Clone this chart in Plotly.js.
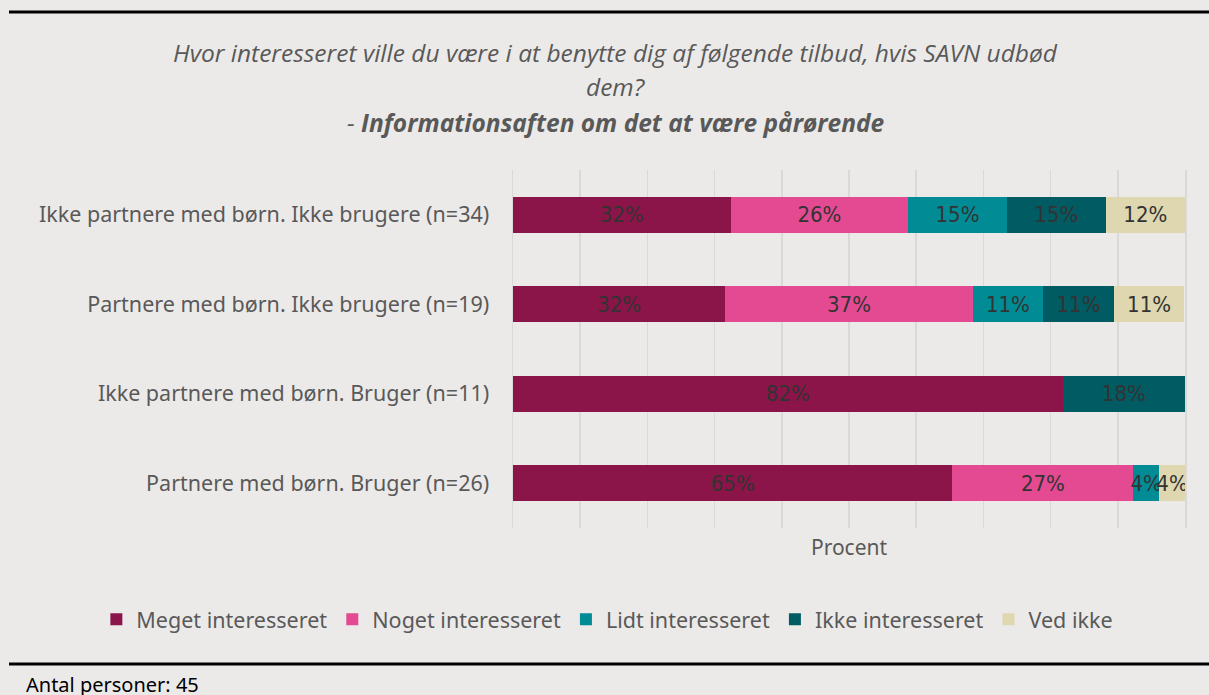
<!DOCTYPE html>
<html>
<head>
<meta charset="utf-8">
<script src="https://cdn.plot.ly/plotly-3.0.1.min.js"></script>
<style>
html,body{margin:0;padding:0;background:#ECEAE8;}
#chart{width:1209px;height:695px;}
</style>
</head>
<body>
<div id="chart"></div>
<script>
// Categories (top to bottom)
const categories = [
  "Ikke partnere med børn. Ikke brugere (n=34)",
  "Partnere med børn. Ikke brugere (n=19)",
  "Ikke partnere med børn. Bruger (n=11)",
  "Partnere med børn. Bruger (n=26)"
];
// Series names
const seriesNames = ["Meget interesseret", "Noget interesseret", "Lidt interesseret", "Ikke interesseret", "Ved ikke"];
// Percent values per series (order follows categories)
const meget = [32.4, 31.6, 81.8, 65.4];
const noget = [26.4, 36.8, 0, 26.9];
const lidt  = [14.7, 10.5, 0, 3.85];
const ikke  = [14.7, 10.5, 18.2, 0];
const vedIkke = [11.8, 10.5, 0, 3.85];
const seriesValues = [meget, noget, lidt, ikke, vedIkke];
const colors = ["#8B1449", "#E34A92", "#008B95", "#005B63", "#DED7AF"];
// Title lines
const titleLines = [
  "Hvor interesseret ville du være i at benytte dig af følgende tilbud, hvis SAVN udbød",
  "dem?",
  "- <b>Informationsaften om det at være pårørende</b>"
];
const footerText = "Antal personer: 45";

const labelFont = "Noto Sans, Open Sans, sans-serif";
const narrowFont = "Liberation Sans Narrow, DejaVu Sans Condensed, sans-serif";

const traces = seriesValues.map((vals, i) => ({
  type: "bar",
  orientation: "h",
  name: seriesNames[i],
  y: categories,
  x: vals,
  marker: {color: colors[i], line: {width: 0}},
  text: vals.map(v => v > 0 ? Math.round(v) + "%" : ""),
  textposition: "inside",
  insidetextanchor: "middle",
  textangle: 0,
  constraintext: "none",
  textfont: {family: narrowFont, size: 22, color: "#333333"},
  hoverinfo: "name+x"
}));

const titleY = [1.3296, 1.232, 1.134];
const annotations = titleLines.map((t, i) => ({
  xref: "paper", yref: "paper", x: 0.153, y: titleY[i],
  xanchor: "center", yanchor: "middle", showarrow: false,
  text: t,
  font: {family: "Open Sans, sans-serif", size: 24.5, color: "#595959", style: "italic"}
}));
annotations.push({
  xref: "paper", yref: "paper", x: -0.728, y: -0.438, xanchor: "left", yanchor: "middle", showarrow: false,
  text: footerText, font: {family: labelFont, size: 20, color: "#000000"}
});

const layout = {
  width: 1209,
  height: 695,
  paper_bgcolor: "#ECEAE8",
  plot_bgcolor: "#ECEAE8",
  barmode: "stack",
  bargap: 0.6,
  showlegend: true,
  margin: {l: 513, r: 24, t: 170, b: 167, autoexpand: false},
  uniformtext: {mode: "show", minsize: 22},
  xaxis: {
    range: [0, 100],
    dtick: 10,
    showticklabels: false,
    showgrid: true,
    gridcolor: "#D9D9D9",
    gridwidth: 1.5,
    zeroline: false,
    fixedrange: true,
    automargin: false,
    title: {text: "Procent", font: {family: labelFont, size: 21, color: "#595959"}, standoff: 12}
  },
  yaxis: {
    type: "category",
    categoryorder: "array",
    categoryarray: categories,
    autorange: "reversed",
    automargin: false,
    showgrid: false,
    zeroline: false,
    showline: true,
    mirror: true,
    linecolor: "#D9D9D9",
    linewidth: 1.5,
    ticks: "",
    ticklabelstandoff: 18,
    tickfont: {family: labelFont, size: 21.5, color: "#595959"}
  },
  legend: {
    orientation: "h",
    xref: "paper",
    x: -0.62, xanchor: "left",
    y: -0.255, yanchor: "middle",
    font: {family: labelFont, size: 21.5, color: "#595959"},
    itemwidth: 30,
    traceorder: "normal",
    bgcolor: "rgba(0,0,0,0)"
  },
  shapes: [
    {type: "line", xref: "paper", yref: "paper", x0: -0.75, x1: 1.04, y0: 1.441, y1: 1.441, line: {color: "#000000", width: 3}},
    {type: "line", xref: "paper", yref: "paper", x0: -0.75, x1: 1.04, y0: -0.380, y1: -0.380, line: {color: "#000000", width: 3}}
  ],
  annotations: annotations
};

Plotly.newPlot("chart", traces, layout, {displayModeBar: false, staticPlot: true});
</script>
</body>
</html>
